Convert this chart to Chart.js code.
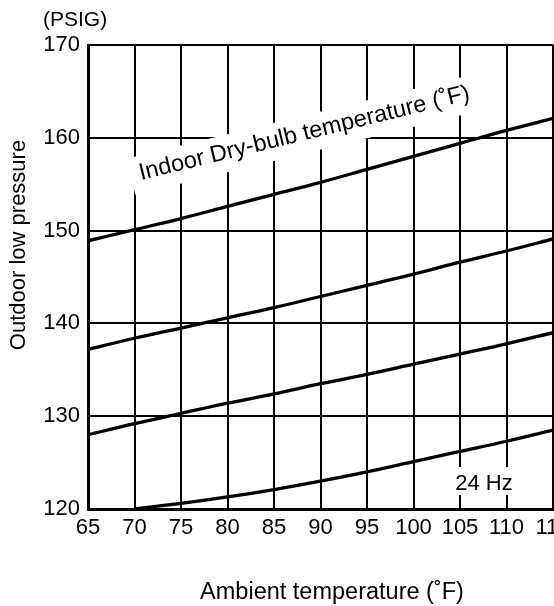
<!DOCTYPE html>
<html>
<head>
<meta charset="utf-8">
<script src="https://cdn.jsdelivr.net/npm/chart.js@4/dist/chart.umd.min.js"></script>
<style>
  html, body { margin: 0; padding: 0; background: #fff; }
  #wrap { width: 554px; height: 606px; position: relative; }
</style>
</head>
<body>
<div id="wrap"><canvas id="c" width="554" height="606"></canvas></div>
<script>
// Data
const ambientTemps = [65, 70, 75, 80, 85, 90, 95, 100, 105, 110, 115];
const curveA = [148.9, 150.1, 151.3, 152.6, 153.9, 155.2, 156.6, 158.0, 159.4, 160.8, 162.1];
const curveB = [137.2, 138.4, 139.5, 140.6, 141.7, 142.9, 144.1, 145.3, 146.6, 147.8, 149.1];
const curveC = [128.0, 129.2, 130.3, 131.4, 132.4, 133.5, 134.5, 135.6, 136.7, 137.8, 139.0];
const curve24Hz = [null, 120.0, 120.6, 121.3, 122.1, 123.0, 124.0, 125.1, 126.2, 127.3, 128.5];
const yTicks = [120, 130, 140, 150, 160, 170];
const xTicks = ambientTemps;

const FONT = "'Liberation Sans', Arial, sans-serif";

function toPoints(vals) {
  return ambientTemps.map((t, i) => ({ x: t, y: vals[i] })).filter(p => p.y !== null);
}

function mkSet(vals) {
  return {
    data: toPoints(vals),
    borderColor: '#000',
    borderWidth: 3.3,
    pointRadius: 0,
    cubicInterpolationMode: 'monotone',
    fill: false
  };
}

const labelPlugin = {
  id: 'labels',
  beforeDatasetsDraw(chart) {
    const ctx = chart.ctx;
    // Indoor Dry-bulb label (rotated, white background)
    ctx.save();
    ctx.translate(141, 180);
    ctx.rotate(-13.7 * Math.PI / 180);
    ctx.font = '23.5px ' + FONT;
    const txt = 'Indoor Dry-bulb temperature (˚F)';
    const w = ctx.measureText(txt).width;
    ctx.fillStyle = '#fff';
    ctx.fillRect(-9, -24, w + 18, 37);
    ctx.fillStyle = '#000';
    ctx.textAlign = 'left';
    ctx.textBaseline = 'alphabetic';
    ctx.fillText(txt, 0, 0);
    ctx.restore();

    // 24 Hz label
    ctx.save();
    ctx.fillStyle = '#fff';
    ctx.fillRect(453, 467, 62, 28);
    ctx.fillStyle = '#000';
    ctx.font = '22px ' + FONT;
    ctx.textAlign = 'center';
    ctx.textBaseline = 'alphabetic';
    ctx.fillText('24 Hz', 484, 490);
    ctx.restore();
  },
  afterDraw(chart) {
    const ctx = chart.ctx;
    ctx.save();
    ctx.fillStyle = '#000';
    ctx.font = '21px ' + FONT;
    ctx.textAlign = 'left';
    ctx.textBaseline = 'alphabetic';
    ctx.fillText('(PSIG)', 43, 26);

    ctx.font = '23.5px ' + FONT;
    ctx.textAlign = 'center';
    ctx.fillText('Ambient temperature (˚F)', 332, 599);

    ctx.translate(25, 245);
    ctx.rotate(-Math.PI / 2);
    ctx.font = '22px ' + FONT;
    ctx.textAlign = 'center';
    ctx.textBaseline = 'alphabetic';
    ctx.fillText('Outdoor low pressure', 0, 0);
    ctx.restore();
  }
};

new Chart(document.getElementById('c'), {
  type: 'line',
  data: {
    datasets: [mkSet(curveA), mkSet(curveB), mkSet(curveC), mkSet(curve24Hz)]
  },
  options: {
    responsive: false,
    animation: false,
    events: [],
    layout: { padding: { top: 45, right: 1, left: 0, bottom: 0 } },
    plugins: { legend: { display: false }, tooltip: { enabled: false } },
    scales: {
      x: {
        type: 'linear',
        min: 65, max: 115,
        afterBuildTicks(scale) { scale.ticks = xTicks.map(v => ({ value: v })); },
        afterFit(scale) { scale.height = 97; scale.paddingLeft = 0; scale.paddingRight = 0; },
        grid: { color: '#000', lineWidth: 2, drawTicks: false },
        border: { color: '#000', width: 3 },
        ticks: { color: '#000', font: { family: FONT, size: 22 }, padding: 6, maxRotation: 0, autoSkip: false }
      },
      y: {
        type: 'linear',
        min: 120, max: 170,
        afterBuildTicks(scale) { scale.ticks = yTicks.map(v => ({ value: v })); },
        afterFit(scale) { scale.width = 88; scale.paddingTop = 0; scale.paddingBottom = 0; },
        grid: { color: '#000', lineWidth: 2, drawTicks: false },
        border: { color: '#000', width: 3 },
        ticks: { color: '#000', font: { family: FONT, size: 22 }, padding: 8 }
      }
    }
  },
  plugins: [labelPlugin]
});
</script>
</body>
</html>
